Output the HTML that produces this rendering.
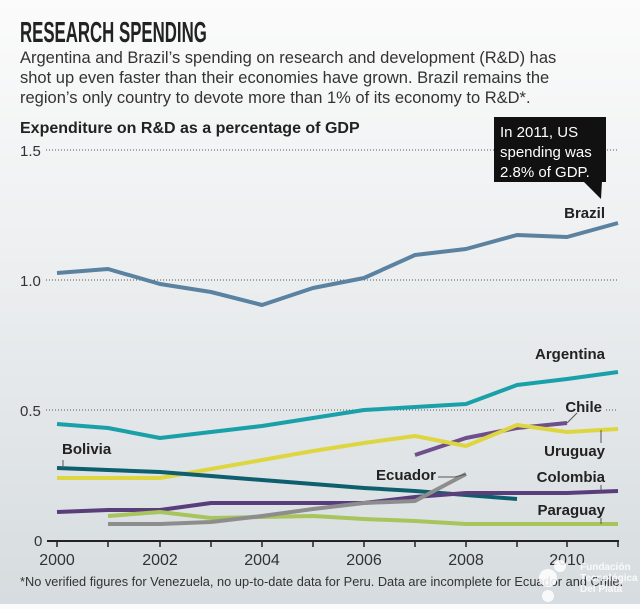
<!DOCTYPE html>
<html><head><meta charset="utf-8"><style>
body{margin:0;width:640px;height:604px;overflow:hidden;background:linear-gradient(#fbfbfb 0%,#eef0f1 40%,#d6dcdf 100%);font-family:"Liberation Sans",sans-serif;}
</style></head><body>
<svg width="640" height="604" xmlns="http://www.w3.org/2000/svg" font-family="Liberation Sans, sans-serif">
<text x="34.5" y="42" font-size="29" font-weight="bold" fill="#222" transform="scale(0.58,1)">RESEARCH SPENDING</text>
<g font-size="16.5" fill="#333">
<text x="20" y="63">Argentina and Brazil’s spending on research and development (R&amp;D) has</text>
<text x="20" y="83">shot up even faster than their economies have grown. Brazil remains the</text>
<text x="20" y="103">region’s only country to devote more than 1% of its economy to R&amp;D*.</text>
</g>
<text x="20" y="133" font-size="16" font-weight="bold" fill="#222">Expenditure on R&amp;D as a percentage of GDP</text>
<g stroke="#555" stroke-dasharray="1,2" stroke-width="1">
<line x1="46" y1="150" x2="618" y2="150"/><line x1="46" y1="280" x2="618" y2="280"/><line x1="46" y1="410" x2="556" y2="410"/><line x1="606" y1="410" x2="618" y2="410"/>
</g>
<g font-size="15" fill="#333">
<text x="20" y="156">1.5</text><text x="20" y="286">1.0</text><text x="20" y="416">0.5</text><text x="34" y="546">0</text>
</g>
<rect x="494" y="117" width="112" height="65" fill="#111"/>
<polygon points="583,181 602,181 601,199" fill="#111"/>
<g font-size="15" fill="#fff"><text x="500" y="137">In 2011, US</text><text x="500" y="157">spending was</text><text x="500" y="177">2.8% of GDP.</text></g>
<g fill="none" stroke-width="4" stroke-linejoin="round">
<polyline stroke="#5b82a0" points="57,273 108,269 160,284 211,292 262,305 313,288 364,278 415,255 466,249 517,235 567,237 618,223"/>
<polyline stroke="#1aa0a8" points="57,424 108,428 160,438 211,432 262,426 313,418 364,410 415,407 466,404 517,385 567,379 618,372"/>
<polyline stroke="#6e4f8c" points="415,455 466,438 517,428 567,423"/>
<polyline stroke="#ddd640" points="57,478 108,478 160,478 211,469 262,460 313,451 364,443 415,436 466,446 517,425 567,432 618,429"/>
<polyline stroke="#0e5f6e" points="57,468 108,470 160,472 211,476 262,480 313,484 364,488 415,491 466,495 517,499"/>
<polyline stroke="#5a3e7c" points="57,512 108,510 160,510 211,503 262,503 313,503 364,503 415,497 466,493 517,493 567,493 618,491"/>
<polyline stroke="#a8c45c" points="108,516 160,512 211,518 262,517 313,516 364,519 415,521 466,524 517,524 567,524 618,524"/>
<polyline stroke="#8d8d8d" points="108,524 160,524 211,522 262,516 313,509 364,503 415,501 466,474"/>
</g>
<g stroke="#555" stroke-width="1" fill="none">
<line x1="63" y1="460" x2="63" y2="468"/>
<polyline points="438,477 455,477 466,474"/>
<line x1="567" y1="423" x2="577" y2="413"/>
<line x1="601" y1="430" x2="601" y2="443"/>
<line x1="601" y1="485" x2="601" y2="492"/>
<line x1="601" y1="518" x2="601" y2="524"/>
</g>
<line x1="47" y1="541" x2="619" y2="541" stroke="#222" stroke-width="2"/>
<g stroke="#222" stroke-width="1.5">
<line x1="57" y1="541" x2="57" y2="547"/><line x1="108" y1="541" x2="108" y2="547"/><line x1="160" y1="541" x2="160" y2="547"/><line x1="211" y1="541" x2="211" y2="547"/><line x1="262" y1="541" x2="262" y2="547"/><line x1="313" y1="541" x2="313" y2="547"/><line x1="364" y1="541" x2="364" y2="547"/><line x1="415" y1="541" x2="415" y2="547"/><line x1="466" y1="541" x2="466" y2="547"/><line x1="517" y1="541" x2="517" y2="547"/><line x1="567" y1="541" x2="567" y2="547"/><line x1="618" y1="541" x2="618" y2="547"/>
</g>
<g font-size="16" fill="#333" text-anchor="middle">
<text x="57" y="565">2000</text><text x="160" y="565">2002</text><text x="262" y="565">2004</text><text x="364" y="565">2006</text><text x="466" y="565">2008</text><text x="567" y="565">2010</text>
</g>
<g font-size="15" font-weight="bold" fill="#222">
<text x="605" y="218" text-anchor="end">Brazil</text>
<text x="605" y="359" text-anchor="end">Argentina</text>
<text x="602" y="412" text-anchor="end">Chile</text>
<text x="605" y="456" text-anchor="end">Uruguay</text>
<text x="62" y="454">Bolivia</text>
<text x="376" y="480">Ecuador</text>
<text x="605" y="482" text-anchor="end">Colombia</text>
<text x="605" y="515" text-anchor="end">Paraguay</text>
</g>
<text x="20" y="586" font-size="12.8" fill="#333">*No verified figures for Venezuela, no up-to-date data for Peru. Data are incomplete for Ecuador and Chile.</text>
<g fill="#fff" opacity="0.85">
<circle cx="548" cy="578" r="9"/><circle cx="560" cy="566" r="6"/><circle cx="548" cy="596" r="6"/>
<text x="580" y="570" font-size="10" font-weight="bold">Fundación</text>
<text x="580" y="581" font-size="10" font-weight="bold">Tecnológica</text>
<text x="580" y="592" font-size="10" font-weight="bold">Del Plata</text>
</g>
</svg>
</body></html>
